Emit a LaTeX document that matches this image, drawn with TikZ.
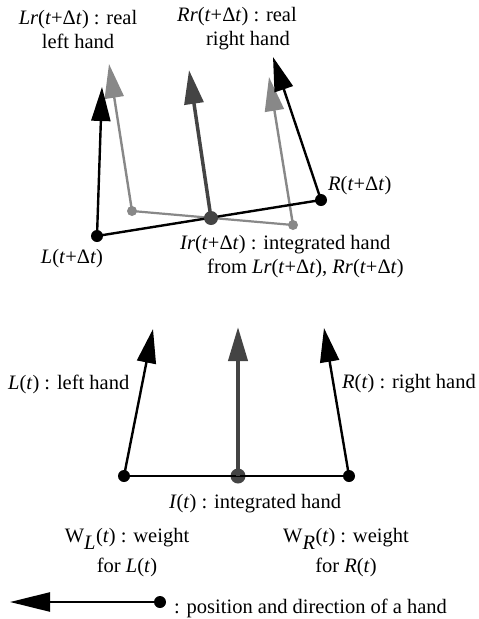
\documentclass[tikz,border=0pt]{standalone}
\usepackage{fontspec}
\setmainfont{Liberation Serif}
\usetikzlibrary{arrows.meta}
\definecolor{lgray}{HTML}{888888}
\definecolor{dgray}{HTML}{444444}
\begin{document}
\begin{tikzpicture}[x=1pt,y=-1pt,
  hand/.style={line width=2.4pt,-{Triangle[length=34pt,width=19pt]}},
  dot/.style={circle,fill,inner sep=0pt,minimum size=12pt},
  gdot/.style={circle,fill=lgray,inner sep=0pt,minimum size=10pt},
  lbl/.style={font=\fontsize{20.5}{24}\selectfont,inner sep=0pt,align=center}]
\useasboundingbox (0,0) rectangle (479,619);
% ---- top part ----
\coordinate (glt) at (109,64);
\coordinate (ct) at (189,70);
\coordinate (grt) at (269,77);
\coordinate (blt) at (102,87);
\coordinate (brt) at (273,57);
\draw[lgray,line width=2.2pt] (132,211) node[gdot] (gl) {} -- (293,225) node[gdot] (gr) {};
\draw[hand,lgray] (gl.center) -- (glt);
\draw[hand,lgray] (gr.center) -- (grt);
\node[dot] (bl) at (97,236) {};
\node[dot] (br) at (321,200) {};
\draw[line width=2.4pt] (bl.center) -- (br.center);
\node[dot,dgray,minimum size=14pt] (c) at (211,218) {};
\draw[hand,dgray,line width=3.5pt] (c.center) -- (ct);
\draw[hand] (bl.center) -- (blt);
\draw[hand] (br.center) -- (brt);
\node[lbl] (lrl) at (78,29) {\textit{Lr}(\textit{t}+Δ\textit{t}) : real\\left hand};
\node[lbl] (rrl) at (237,29) {\textit{Rr}(\textit{t}+Δ\textit{t}) : real\\\hspace*{22pt}right hand};
\node[lbl,anchor=west] (rtl) at (328,186) {\textit{R}(\textit{t}+Δ\textit{t})};
\node[lbl] (ltl) at (72,259) {\textit{L}(\textit{t}+Δ\textit{t})};
\node[lbl,align=left,anchor=west] (irl) at (180,257) {\textit{Ir}(\textit{t}+Δ\textit{t}) : integrated hand\\\hspace*{27pt}from \textit{Lr}(\textit{t}+Δ\textit{t}), \textit{Rr}(\textit{t}+Δ\textit{t})};
% ---- bottom part ----
\node[dot] (l) at (124,476) {};
\node[dot] (r) at (349,476) {};
\node[dot,dgray,minimum size=15pt] (i) at (238,476) {};
\coordinate (lt) at (153,329);
\coordinate (it) at (238,327);
\coordinate (rt) at (324,328);
\draw[line width=2.4pt] (l.center) -- (r.center);
\draw[hand] (l.center) -- (lt);
\draw[hand] (r.center) -- (rt);
\draw[hand,dgray,line width=4pt] (i.center) -- (it);
\node[lbl,anchor=west] (ll) at (8,384) {\textit{L}(\textit{t}) : left hand};
\node[lbl,anchor=west] (rl) at (342,384) {\textit{R}(\textit{t}) : right hand};
\node[lbl] (il) at (255,504) {\textit{I}(\textit{t}) : integrated hand};
\node[lbl] (wl) at (127,553) {W$_{\textit{L}}$(\textit{t}) : weight\\[6pt]for \textit{L}(\textit{t})};
\node[lbl] (wr) at (346,553) {W$_{\textit{R}}$(\textit{t}) : weight\\[6pt]for \textit{R}(\textit{t})};
% ---- legend ----
\node[dot] (hd) at (160,602) {};
\coordinate (ht) at (10,602);
\draw[line width=2.4pt,-{Triangle[length=40pt,width=19pt]}] (hd.center) -- (ht);
\node[lbl,anchor=west] (hl) at (174,608) {: position and direction of a hand};
\end{tikzpicture}
\end{document}
